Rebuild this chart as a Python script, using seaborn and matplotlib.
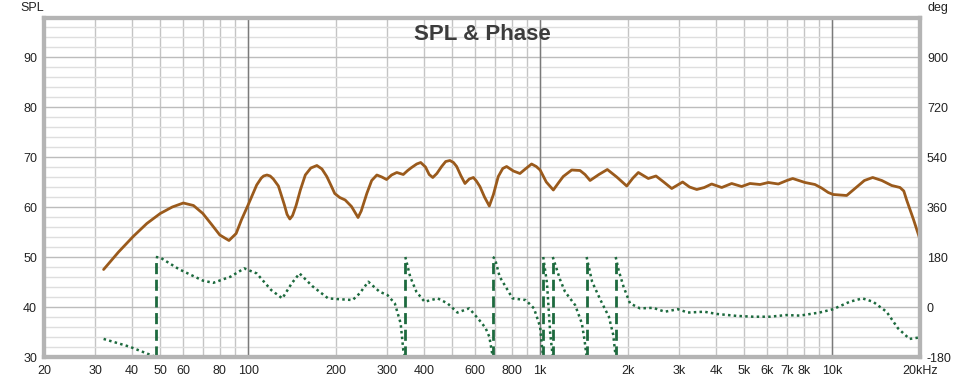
import numpy as np
import pandas as pd
import matplotlib
matplotlib.use("Agg")
import matplotlib.pyplot as plt
import seaborn as sns

# ---------------------------
# Data
# ---------------------------

spl_freq = [32, 36, 40.4, 45, 50, 55, 60, 65, 70, 75, 80, 86, 91, 95, 100,
            107, 111, 113, 116, 119, 122, 127, 133, 136, 139, 142, 146, 151,
            157, 164, 172, 179,
            186, 192, 198, 206, 215, 226, 233, 238, 244, 255, 265, 276, 287,
            298, 310, 323, 340, 352, 363, 378, 390, 405, 417, 429, 443, 460,
            475, 491, 505, 518, 535, 553, 572, 591, 605, 622, 645, 670, 692,
            719, 745, 768, 810, 853, 890, 935, 970, 1000, 1050, 1110, 1155,
            1200, 1283, 1370, 1425, 1483, 1590, 1699, 1830, 1980, 2080, 2170,
            2347, 2494, 2650, 2824, 3077, 3250, 3439, 3650, 3869, 4188, 4530,
            4900, 5234, 5665, 6048, 6544, 7000, 7330, 8075, 8736, 9200, 9700,
            10090, 11220, 11980, 12900, 13770, 14800, 16000, 17080, 17600,
            18000, 19000, 19900]
spl_db = [47.5, 51.0, 54.1, 56.7, 58.7, 60.0, 60.8, 60.3, 58.7, 56.5, 54.4,
          53.3, 54.7, 57.5, 60.4, 64.4, 65.8, 66.2, 66.4, 66.2, 65.6, 64.2,
          60.5, 58.5, 57.6, 58.3, 60.3, 63.4, 66.4, 67.8, 68.3, 67.6,
          66.1, 64.4, 62.7, 61.9, 61.4,
          60.1, 58.8, 57.9, 59.2, 62.7, 65.3, 66.4, 66.0, 65.5, 66.4, 66.9,
          66.5, 67.3, 67.9, 68.6, 68.9, 68.0, 66.5, 65.9, 66.7, 68.1, 69.1,
          69.3, 68.9, 68.1, 66.3, 64.7, 65.6, 65.9, 65.2, 64.1, 62.0, 60.2,
          62.5, 66.1, 67.7, 68.1, 67.2, 66.7, 67.6, 68.6, 68.1, 67.4, 65.0,
          63.4, 64.8, 66.1, 67.4, 67.3, 66.5, 65.3, 66.5, 67.5, 66.0, 64.2,
          65.8, 66.9, 65.7, 66.2, 65.0, 63.7, 65.0, 64.0, 63.5, 63.9, 64.6,
          63.9, 64.7, 64.1, 64.7, 64.5, 64.9, 64.6, 65.3, 65.7, 64.9, 64.5,
          63.8, 62.9, 62.5, 62.3, 63.7, 65.3, 65.9, 65.3, 64.3, 63.9, 63.2,
          61.4, 57.5, 53.9]

# phase, wrapped to +-180, one list per unwrapped piece
phase_freq = [
    [32, 39.3, 48.3],
    [48.3, 50, 58, 70, 76, 87, 97, 107, 120, 131, 141, 150, 166, 188, 206,
     228, 241, 258, 282, 300, 318, 333, 340, 345.5],
    [345.5, 359, 377, 402, 446, 482, 521, 572, 619, 650, 670, 688.5],
    [688.5, 700, 727, 805, 893, 953, 1000, 1012, 1025],
    [1025, 1056, 1083, 1105],
    [1105, 1172, 1217, 1318, 1390, 1420, 1443],
    [1443, 1507, 1610, 1720, 1780, 1815],
    [1815, 1860, 1931, 2032, 2200, 2440, 2673, 2964, 3206, 3651, 4023, 4707,
     5365, 6118, 6975, 7753, 9053, 10070, 11500, 12700, 13810, 15360, 16820,
     18420, 19800],
]
phase_deg = [
    [-115, -143, -180],
    [180, 178, 136, 95, 87, 109, 139, 121, 61, 31, 85, 121, 75, 31, 28,
     25, 49, 91, 55, 43, 13, -59, -155, -180],
    [180, 109, 55, 19, 31, 13, -20, -5, -47, -75, -107, -180],
    [180, 175, 109, 31, 25, -5, -71, -130, -180],
    [180, 85, -95, -180],
    [180, 97, 55, 7, -59, -120, -180],
    [180, 91, 25, -35, -100, -180],
    [180, 130, 73, 13, -5, -3, -17, -8, -20, -17, -25, -32, -35, -35, -29,
     -31, -20, -8, 19, 31, 19, -17, -77, -115, -110],
]
wrap_freq = [48.3, 345.5, 688.5, 1025, 1105, 1443, 1815]

x_ticks = [20, 30, 40, 50, 60, 80, 100, 200, 300, 400, 600, 800,
           1000, 2000, 3000, 4000, 5000, 6000, 7000, 8000, 10000, 20000]
x_labels = ["20", "30", "40", "50", "60", "80", "100", "200", "300", "400",
            "600", "800", "1k", "2k", "3k", "4k", "5k", "6k", "7k", "8k",
            "10k", "20kHz"]
spl_ticks = [30, 40, 50, 60, 70, 80, 90]
deg_ticks = [-180, 0, 180, 360, 540, 720, 900]

phase_df = pd.DataFrame({
    "freq": [f for seg in phase_freq for f in seg],
    "deg": [d for seg in phase_deg for d in seg],
    "seg": [i for i, seg in enumerate(phase_freq) for _ in seg],
})

# ---------------------------
# Figure
# ---------------------------

sns.set_style("white")
plt.rcParams["font.family"] = ["Liberation Sans", "DejaVu Sans"]
plt.rcParams["axes.unicode_minus"] = False

spl_col = "#9a5a1c"
ph_col = "#1d6a3e"
txt_col = "#222222"

fig = plt.figure(figsize=(9.77, 3.84), dpi=100)
ax = fig.add_axes([44 / 977, 27 / 384, 876 / 977, 339 / 384])
ax.set_xscale("log")
ax.set_xlim(20, 20000)
ax.set_ylim(30, 97.8)

# grid lines
grid_x = [m * 10 ** e for e in range(1, 5) for m in range(1, 10)]
grid_x = [g for g in grid_x if 20 <= g <= 20000]
for g in grid_x:
    ax.axvline(g, color="#c4c4c4", lw=1, zorder=0)
for g in [100, 1000, 10000]:
    ax.axvline(g, color="#7a7a7a", lw=1, zorder=0.5)
for v in range(32, 98, 2):
    ax.axhline(v, color="#dedede" if v % 10 else "#bcbcbc", lw=1, zorder=0)

sns.lineplot(x=spl_freq, y=spl_db, ax=ax, color=spl_col, lw=2,
             sort=False, zorder=3)

ax.set_xticks(x_ticks)
ax.set_xticklabels(x_labels)
ax.xaxis.set_minor_locator(matplotlib.ticker.NullLocator())
ax.set_yticks(spl_ticks)
ax.tick_params(axis="both", length=0, labelsize=9, colors=txt_col)
ax.tick_params(axis="x", pad=6)
ax.tick_params(axis="y", pad=5)
ax.set_xlabel("")
ax.set_ylabel("")

ax2 = ax.twinx()
ax2.set_ylim((30 - 40) * 18, (97.8 - 40) * 18)
ax2.vlines(wrap_freq, -180, 180, colors=ph_col, linestyles=(0, (4, 2)),
           lw=2, zorder=2)
sns.lineplot(data=phase_df, x="freq", y="deg", units="seg", estimator=None,
             ax=ax2, color=ph_col, lw=1.8, linestyle=(0, (1, 1.3)),
             sort=False, zorder=2)
ax2.set_yticks(deg_ticks)
ax2.tick_params(axis="y", length=0, labelsize=9, colors=txt_col, pad=5)
ax2.set_xlabel("")
ax2.set_ylabel("")

for a in (ax, ax2):
    for s in a.spines.values():
        s.set_color("#b4b4b4")
        s.set_linewidth(3)
        s.set_zorder(5)

fig.text(20 / 977, 1 - 8 / 384, "SPL", fontsize=9, color=txt_col,
         ha="left", va="center")
fig.text(928 / 977, 1 - 8 / 384, "deg", fontsize=9, color=txt_col,
         ha="left", va="center")
fig.text(482 / 977, 1 - 35 / 384, "SPL & Phase", fontsize=16,
         fontweight="bold", color="#3c3c3c", ha="center", va="center")

fig.savefig("out.png", dpi=100)
plt.close(fig)
